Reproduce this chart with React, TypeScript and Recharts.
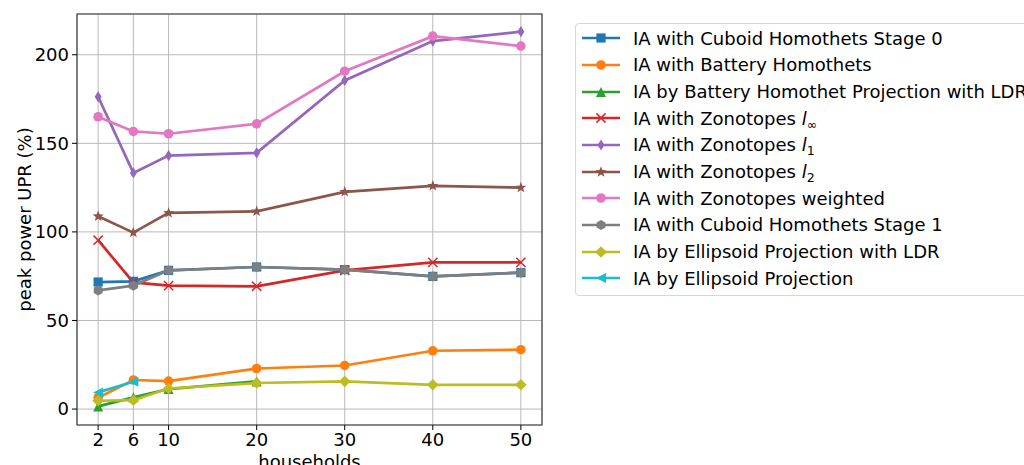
import React from 'react';
import { LineChart, Line, XAxis, YAxis, CartesianGrid, Legend, ReferenceArea } from 'recharts';

const households = [2, 6, 10, 20, 30, 40, 50];
const cuboidStage0 = [71.7, 72.1, 78.3, 80.2, 78.7, 74.9, 77.0];
const batteryHomothets = [6.4, 16.4, 15.8, 22.9, 24.6, 32.9, 33.5];
const batteryProjLDR: (number | null)[] = [1.5, 6.6, 11.3, 15.6, null, null, null];
const zonoInf = [95.3, 71.5, 69.7, 69.3, 78.3, 82.8, 82.8];
const zonoL1 = [176.3, 133.3, 143.1, 144.6, 185.5, 207.7, 213.0];
const zonoL2 = [108.8, 99.6, 110.7, 111.6, 122.6, 126.0, 125.0];
const zonoWeighted = [165.0, 156.7, 155.4, 161.0, 190.7, 210.5, 204.9];
const cuboidStage1 = [67.0, 69.7, 78.3, 80.2, 78.7, 74.9, 77.0];
const ellipsoidLDR = [4.7, 5.0, 11.6, 14.7, 15.6, 13.7, 13.7];
const ellipsoid: (number | null)[] = [9.4, 15.4, null, null, null, null, null];

const yTicks = [0, 50, 100, 150, 200];

type Shape = 'square' | 'circle' | 'tri' | 'x' | 'thinD' | 'star' | 'hex' | 'D' | 'triLeft';

interface SeriesDef {
  key: string;
  label: React.ReactNode;
  color: string;
  shape: Shape;
  values: (number | null)[];
}

const sub = (s: string) => (
  <span>
    <span style={{ fontStyle: 'italic' }}>l</span>
    <sub style={{ fontSize: '0.7em', verticalAlign: '-0.3em', lineHeight: 0 }}>{s}</sub>
  </span>
);

const series: SeriesDef[] = [
  { key: 's0', label: 'IA with Cuboid Homothets Stage 0', color: '#1f77b4', shape: 'square', values: cuboidStage0 },
  { key: 's1', label: 'IA with Battery Homothets', color: '#ff7f0e', shape: 'circle', values: batteryHomothets },
  { key: 's2', label: 'IA by Battery Homothet Projection with LDR', color: '#2ca02c', shape: 'tri', values: batteryProjLDR },
  { key: 's3', label: <span>IA with Zonotopes {sub('∞')}</span>, color: '#d62728', shape: 'x', values: zonoInf },
  { key: 's4', label: <span>IA with Zonotopes {sub('1')}</span>, color: '#9467bd', shape: 'thinD', values: zonoL1 },
  { key: 's5', label: <span>IA with Zonotopes {sub('2')}</span>, color: '#8c564b', shape: 'star', values: zonoL2 },
  { key: 's6', label: 'IA with Zonotopes weighted', color: '#e377c2', shape: 'circle', values: zonoWeighted },
  { key: 's7', label: 'IA with Cuboid Homothets Stage 1', color: '#7f7f7f', shape: 'hex', values: cuboidStage1 },
  { key: 's8', label: 'IA by Ellipsoid Projection with LDR', color: '#bcbd22', shape: 'D', values: ellipsoidLDR },
  { key: 's9', label: 'IA by Ellipsoid Projection', color: '#17becf', shape: 'triLeft', values: ellipsoid },
];

const data = households.map((h, i) => {
  const row: Record<string, number | null> = { households: h };
  series.forEach((s) => {
    row[s.key] = s.values[i];
  });
  return row;
});

const pts = (arr: number[][]) => arr.map((p) => p.join(',')).join(' ');

function marker(shape: Shape, color: string, cx: number, cy: number, key?: React.Key) {
  switch (shape) {
    case 'square':
      return <rect key={key} x={cx - 4.6} y={cy - 4.6} width={9.2} height={9.2} fill={color} />;
    case 'circle':
      return <circle key={key} cx={cx} cy={cy} r={4.8} fill={color} />;
    case 'tri':
      return <polygon key={key} points={pts([[cx, cy - 5], [cx - 5, cy + 5], [cx + 5, cy + 5]])} fill={color} />;
    case 'triLeft':
      return <polygon key={key} points={pts([[cx - 5, cy], [cx + 5, cy - 5], [cx + 5, cy + 5]])} fill={color} />;
    case 'x':
      return (
        <g key={key} stroke={color} strokeWidth={1.5}>
          <line x1={cx - 4.6} y1={cy - 4.6} x2={cx + 4.6} y2={cy + 4.6} />
          <line x1={cx - 4.6} y1={cy + 4.6} x2={cx + 4.6} y2={cy - 4.6} />
        </g>
      );
    case 'thinD':
      return <polygon key={key} points={pts([[cx, cy - 5.6], [cx + 3.5, cy], [cx, cy + 5.6], [cx - 3.5, cy]])} fill={color} />;
    case 'D':
      return <polygon key={key} points={pts([[cx, cy - 5.8], [cx + 5.8, cy], [cx, cy + 5.8], [cx - 5.8, cy]])} fill={color} />;
    case 'star': {
      const p: number[][] = [];
      for (let i = 0; i < 10; i++) {
        const r = i % 2 === 0 ? 5.8 : 2.4;
        const a = -Math.PI / 2 + (i * Math.PI) / 5;
        p.push([cx + r * Math.cos(a), cy + r * Math.sin(a)]);
      }
      return <polygon key={key} points={pts(p)} fill={color} />;
    }
    case 'hex': {
      const p: number[][] = [];
      for (let i = 0; i < 6; i++) {
        const a = -Math.PI / 2 + (i * Math.PI) / 3;
        p.push([cx + 5.1 * Math.cos(a), cy + 5.1 * Math.sin(a)]);
      }
      return <polygon key={key} points={pts(p)} fill={color} />;
    }
  }
  return null;
}

const makeDot = (s: SeriesDef) => (props: any) => {
  const { cx, cy, index } = props;
  const k = `${s.key}-${index}`;
  if (cx == null || cy == null || props.value == null || Number.isNaN(cx) || Number.isNaN(cy)) {
    return <g key={k} />;
  }
  return marker(s.shape, s.color, cx, cy, k);
};

const FONT = 'DejaVu Sans, sans-serif';
const FS = 18;

const LegendContent = () => (
  <div
    style={{
      border: '1px solid #d6d6d6',
      borderRadius: 4,
      background: 'rgba(255,255,255,0.8)',
      paddingTop: 1,
      paddingBottom: 3,
      width: 480,
      boxSizing: 'border-box',
      fontFamily: FONT,
      fontSize: FS,
      color: '#000',
    }}
  >
    {series.map((s) => (
      <div key={s.key} style={{ display: 'flex', alignItems: 'center', height: 26.67, whiteSpace: 'nowrap' }}>
        <svg width={40} height={26} style={{ marginLeft: 5, marginRight: 12, flex: 'none' }}>
          <line x1={1} y1={13} x2={39} y2={13} stroke={s.color} strokeWidth={2.7} />
          {marker(s.shape, s.color, 20, 13)}
        </svg>
        <span>{s.label}</span>
      </div>
    ))}
  </div>
);

export default function App() {
  return (
    <div style={{ position: 'absolute', left: 0, top: 0, width: 1024, height: 465, overflow: 'hidden', background: '#fff' }}>
      <LineChart
        width={1024}
        height={465}
        data={data}
        margin={{ top: 14, right: 482, left: 0, bottom: 0 }}
      >
        <CartesianGrid stroke="#b9b9b9" strokeWidth={1} />
        <XAxis
          dataKey="households"
          type="number"
          domain={[-0.4, 52.4]}
          ticks={households}
          allowDataOverflow
          height={40}
          axisLine={false}
          tickLine={{ stroke: '#000' }}
          tickSize={5}
          tickMargin={3}
          tick={{ fill: '#000', fontSize: FS, fontFamily: FONT }}
          interval={0}
          label={(props: any) => {
            const vb = props.viewBox || { x: 77, y: 425, width: 465 };
            return (
              <text x={vb.x + vb.width / 2} y={vb.y + 43} textAnchor="middle" fill="#000" fontSize={FS} fontFamily={FONT}>
                households
              </text>
            );
          }}
        />
        <YAxis
          type="number"
          domain={[-9, 223]}
          ticks={yTicks}
          allowDataOverflow
          width={77}
          axisLine={false}
          tickLine={{ stroke: '#000' }}
          tickSize={5}
          tickMargin={3}
          tick={{ fill: '#000', fontSize: FS, fontFamily: FONT }}
          interval={0}
          label={(props: any) => {
            const vb = props.viewBox || { x: 0, y: 14, width: 77, height: 411 };
            const x = vb.x + 24;
            const y = vb.y + vb.height / 2;
            return (
              <text
                x={x}
                y={y}
                transform={`rotate(-90, ${x}, ${y})`}
                textAnchor="middle"
                dominantBaseline="central"
                fill="#000"
                fontSize={FS}
                fontFamily={FONT}
              >
                peak power UPR (%)
              </text>
            );
          }}
        />
        <ReferenceArea x1={-0.4} x2={52.4} y1={-9} y2={223} fill="none" stroke="#333" strokeWidth={1.1} ifOverflow="visible" />
        {series.map((s) => (
          <Line
            key={s.key}
            dataKey={s.key}
            type="linear"
            stroke={s.color}
            strokeWidth={2.7}
            dot={makeDot(s)}
            activeDot={false}
            isAnimationActive={false}
            connectNulls={false}
            legendType="none"
          />
        ))}
        <Legend
          layout="horizontal"
          align="center"
          verticalAlign="middle"
          content={<LegendContent />}
          wrapperStyle={{ position: 'absolute', left: 575, top: 23, width: 480, height: 272 }}
        />
      </LineChart>
    </div>
  );
}
